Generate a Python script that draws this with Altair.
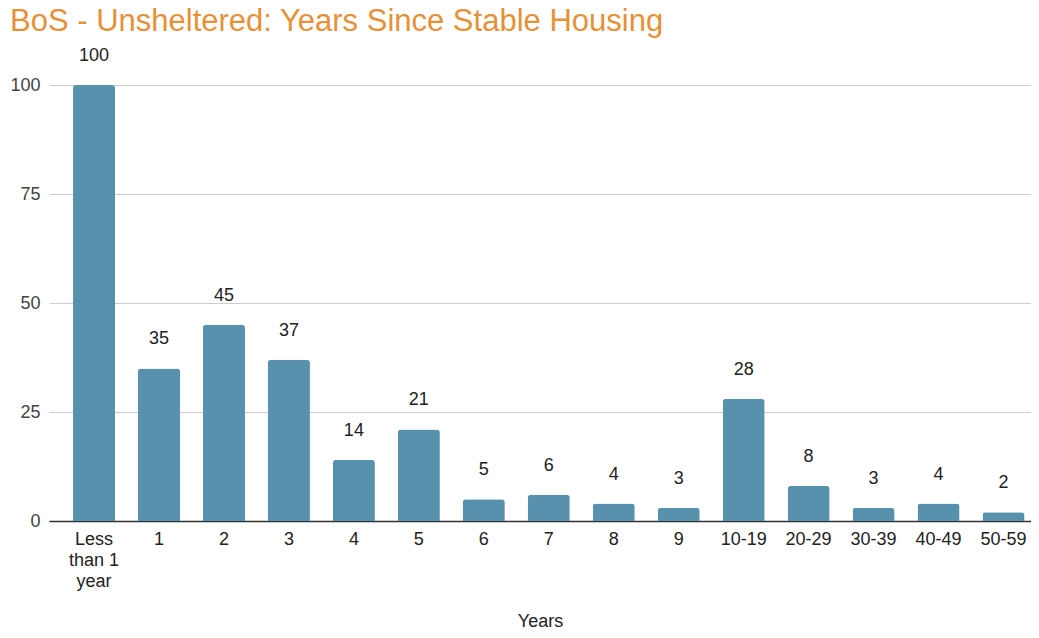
import altair as alt
import pandas as pd

categories = ["Less than 1 year", "1", "2", "3", "4", "5", "6", "7", "8", "9",
              "10-19", "20-29", "30-39", "40-49", "50-59"]
counts = [100, 35, 45, 37, 14, 21, 5, 6, 4, 3, 28, 8, 3, 4, 2]

df = pd.DataFrame({"Years": categories, "Count": counts})

FONT = "Liberation Sans"
BAR = "#5891ad"

x = alt.X(
    "Years:N",
    sort=categories,
    title="Years",
    scale=alt.Scale(paddingInner=0.353, paddingOuter=0.235, align=0.787),
    axis=alt.Axis(
        labelAngle=0,
        labelFont=FONT,
        labelFontSize=18,
        labelColor="#222222",
        labelPadding=9,
        labelLineHeight=21,
        labelBaseline="top",
        labelExpr="datum.label == 'Less than 1 year' ? ['Less', 'than 1', 'year'] : datum.label",
        ticks=False,
        domainColor="#333333",
        domainWidth=1.5,
        titleFont=FONT,
        titleFontSize=18,
        titleFontWeight="normal",
        titleColor="#222222",
        titleBaseline="middle",
        titleY=100,
        grid=False,
    ),
)

y = alt.Y(
    "Count:Q",
    title=None,
    scale=alt.Scale(domain=[0, 100], nice=False),
    axis=alt.Axis(
        values=[0, 25, 50, 75, 100],
        labelFont=FONT,
        labelFontSize=18,
        labelColor="#444444",
        labelPadding=9,
        ticks=False,
        domain=False,
        gridColor="#cccccc",
        gridWidth=1,
    ),
)

bars = alt.Chart(df).mark_bar(
    color=BAR, cornerRadiusTopLeft=3, cornerRadiusTopRight=3
).encode(x=x, y=y)

labels = alt.Chart(df).mark_text(
    baseline="middle", align="center", dy=-29, font=FONT, fontSize=18, color="#222222"
).encode(x=alt.X("Years:N", sort=categories), y="Count:Q", text="Count:Q")

chart = (
    alt.layer(bars, labels)
    .properties(
        width=982,
        height=436,
        autosize=alt.AutoSizeParams(type="none"),
        padding={"left": 41, "top": 77, "right": 0, "bottom": 109},
        title=alt.TitleParams(
            "BoS - Unsheltered: Years Since Stable Housing",
            anchor="start",
            frame="group",
            font=FONT,
            fontSize=31,
            fontWeight="normal",
            color="#e69138",
            dx=-39,
            dy=-5,
        ),
    )
    .configure_view(stroke=None)
)

chart.save("out.html", embed_options={"renderer": "svg", "actions": False})
